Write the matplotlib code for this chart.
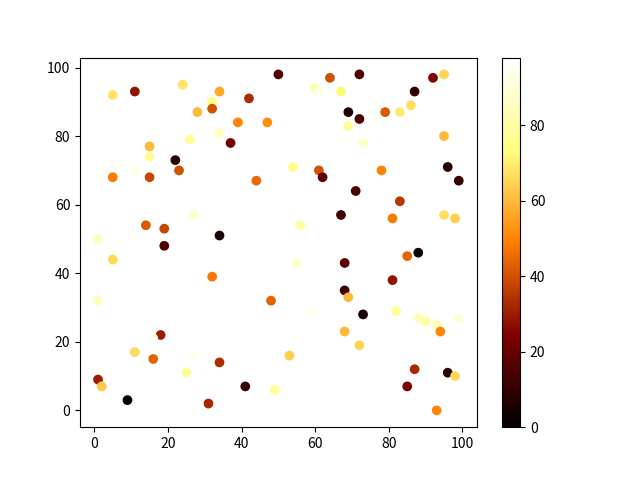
import matplotlib
matplotlib.use("Agg")
import matplotlib.pyplot as plt

plt.rcParams['font.family'] = ['Noto Sans CJK SC', 'DejaVu Sans']

x = [5, 11, 24, 34, 32, 32, 28, 42, 50, 39, 47, 34, 37, 26, 15, 15, 22, 23, 11, 5,
     15, 44, 27, 14, 19, 34, 1, 19, 64, 72, 60, 61, 67, 92, 95, 87, 69, 72, 69, 79,
     83, 86, 95, 73, 54, 61, 62, 78, 96, 99, 71, 83, 67, 81, 95, 98, 56, 5, 32, 1,
     48, 18, 16, 11, 16, 27, 25, 34, 1, 2, 9, 31, 41, 49, 55, 68, 85, 88, 81, 68,
     69, 59, 73, 82, 88, 90, 93, 99, 94, 68, 72, 53, 93, 87, 96, 98, 85, 93]
y = [92, 93, 95, 93, 90, 88, 87, 91, 98, 84, 84, 81, 78, 79, 77, 74, 73, 70, 70, 68,
     68, 67, 57, 54, 53, 51, 50, 48, 97, 98, 94, 93, 93, 97, 98, 93, 87, 85, 83, 87,
     87, 89, 80, 78, 71, 70, 68, 70, 71, 67, 64, 61, 57, 56, 57, 56, 54, 44, 39, 32,
     32, 22, 21, 17, 15, 16, 11, 14, 9, 7, 3, 2, 7, 6, 43, 43, 45, 46, 38, 35,
     33, 29, 28, 29, 27, 26, 25, 27, 23, 23, 19, 16, 15, 12, 11, 10, 7, 0]
c = [68, 28, 68, 57, 75, 40, 60, 33, 16, 50, 52, 86, 22, 78, 60, 78, 8, 40, 92, 48,
     38, 45, 88, 42, 38, 5, 85, 15, 40, 15, 80, 95, 72, 25, 65, 10, 5, 14, 78, 42,
     70, 67, 60, 88, 75, 40, 18, 50, 7, 10, 14, 35, 12, 48, 67, 64, 80, 66, 48, 85,
     44, 30, 96, 66, 44, 94, 77, 33, 30, 63, 0, 32, 10, 78, 88, 18, 44, 2, 28, 12,
     60, 94, 4, 77, 84, 80, 84, 90, 50, 60, 65, 64, 98, 32, 8, 66, 24, 50]

fig, ax = plt.subplots(figsize=(6.4, 4.8), dpi=100)
sc = ax.scatter(x, y, c=c, cmap='afmhot')
fig.colorbar(sc, ax=ax)
fig.savefig('out.png')
